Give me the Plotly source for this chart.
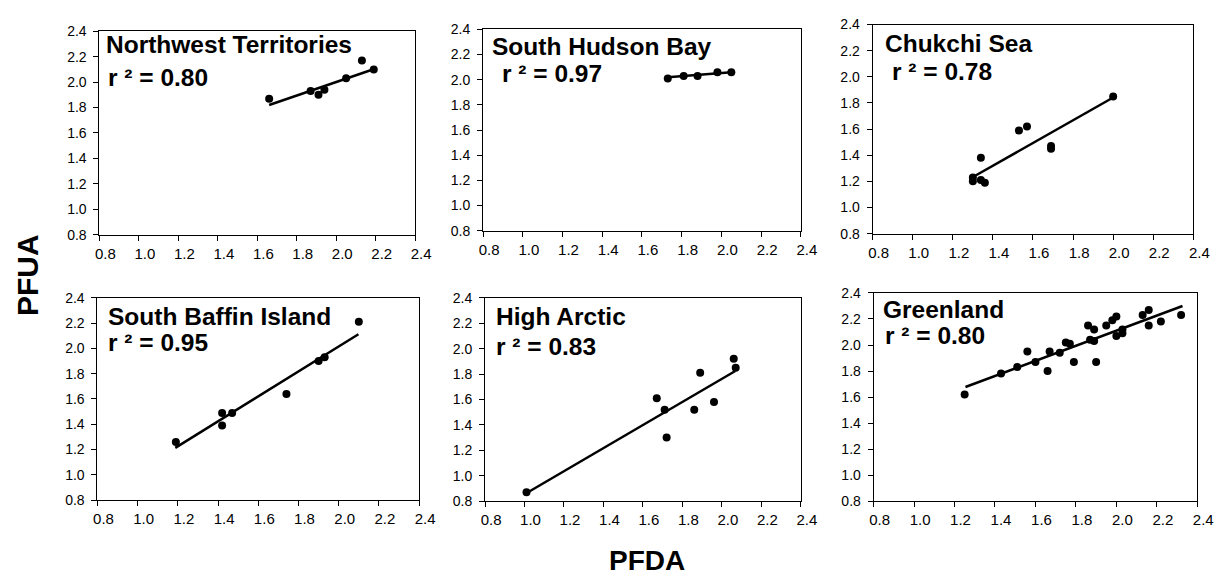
import plotly.graph_objects as go

W, H = 1230, 584

# ---------------- data ----------------
regions = ["Northwest Territories", "South Hudson Bay", "Chukchi Sea",
           "South Baffin Island", "High Arctic", "Greenland"]
r2_values = ["0.80", "0.97", "0.78", "0.95", "0.83", "0.80"]

nwt_pfda = [1.66, 1.87, 1.91, 1.94, 2.05, 2.13, 2.19]
nwt_pfua = [1.87, 1.93, 1.90, 1.94, 2.03, 2.17, 2.10]
nwt_fit_x = [1.66, 2.185]
nwt_fit_y = [1.82, 2.10]

shb_pfda = [1.73, 1.81, 1.88, 1.98, 2.05]
shb_pfua = [2.01, 2.03, 2.03, 2.06, 2.06]
shb_fit_x = [1.73, 2.05]
shb_fit_y = [2.02, 2.06]

chk_pfda = [1.30, 1.30, 1.34, 1.34, 1.36, 1.53, 1.57, 1.69, 1.69, 2.00]
chk_pfua = [1.23, 1.20, 1.38, 1.21, 1.19, 1.59, 1.62, 1.47, 1.45, 1.85]
chk_fit_x = [1.305, 2.00]
chk_fit_y = [1.237, 1.842]

sbi_pfda = [1.19, 1.42, 1.42, 1.47, 1.74, 1.90, 1.93, 2.10]
sbi_pfua = [1.26, 1.49, 1.39, 1.49, 1.64, 1.90, 1.93, 2.21]
sbi_fit_x = [1.187, 2.098]
sbi_fit_y = [1.213, 2.112]

hia_pfda = [1.01, 1.67, 1.71, 1.72, 1.86, 1.89, 1.96, 2.06, 2.07]
hia_pfua = [0.87, 1.61, 1.52, 1.30, 1.52, 1.81, 1.58, 1.92, 1.85]
hia_fit_x = [1.011, 2.068]
hia_fit_y = [0.864, 1.824]

grl_pfda = [1.25, 1.43, 1.51, 1.56, 1.60, 1.66, 1.67, 1.72, 1.75, 1.77,
            1.79, 1.86, 1.87, 1.89, 1.89, 1.90, 1.95, 1.98, 2.00, 2.00,
            2.03, 2.03, 2.13, 2.16, 2.16, 2.22, 2.32]
grl_pfua = [1.62, 1.78, 1.83, 1.95, 1.87, 1.80, 1.95, 1.94, 2.02, 2.01,
            1.87, 2.15, 2.04, 2.12, 2.03, 1.87, 2.15, 2.19, 2.22, 2.07,
            2.12, 2.09, 2.23, 2.27, 2.15, 2.18, 2.23]
grl_fit_x = [1.254, 2.327]
grl_fit_y = [1.677, 2.30]

axis_range = [0.8, 2.4]
tick_values = [0.8, 1.0, 1.2, 1.4, 1.6, 1.8, 2.0, 2.2, 2.4]
tick_labels = ["0.8", "1.0", "1.2", "1.4", "1.6", "1.8", "2.0", "2.2", "2.4"]

x_title = "PFDA"
y_title = "PFUA"

series = [
    (nwt_pfda, nwt_pfua, nwt_fit_x, nwt_fit_y),
    (shb_pfda, shb_pfua, shb_fit_x, shb_fit_y),
    (chk_pfda, chk_pfua, chk_fit_x, chk_fit_y),
    (sbi_pfda, sbi_pfua, sbi_fit_x, sbi_fit_y),
    (hia_pfda, hia_pfua, hia_fit_x, hia_fit_y),
    (grl_pfda, grl_pfua, grl_fit_x, grl_fit_y),
]

# ---------------- layout geometry (pixels) ----------------
# plot boxes: (left, right, top, bottom)
boxes = [
    (97, 418, 24, 233),
    (487, 810, 22, 229),
    (883, 1209, 17, 232),
    (95, 422, 298, 506),
    (489, 810, 298, 507),
    (884, 1213, 293, 507),
]
# annotation anchors: (title_x, title_y, r2_x, r2_y)
label_pos = [
    (102, 38, 104, 71),
    (494, 40, 504, 67),
    (894, 37, 901, 65),
    (104, 317, 104, 344),
    (498, 317, 498, 348),
    (891, 310, 894, 337),
]

FONT = "Liberation Sans, Arial, Helvetica, sans-serif"

fig = go.Figure()
layout = dict(
    width=W, height=H,
    margin=dict(l=0, r=0, t=0, b=0),
    paper_bgcolor="white", plot_bgcolor="white",
    showlegend=False,
    font=dict(family=FONT, color="black"),
)
annotations = []

for i, ((px, py, fx, fy), (l, r, t, b)) in enumerate(zip(series, boxes)):
    n = i + 1
    xa = "x" if n == 1 else f"x{n}"
    ya = "y" if n == 1 else f"y{n}"
    fig.add_trace(go.Scatter(x=fx, y=fy, mode="lines",
                             line=dict(color="black", width=2.5),
                             xaxis=xa, yaxis=ya, hoverinfo="skip"))
    fig.add_trace(go.Scatter(x=px, y=py, mode="markers",
                             marker=dict(color="black", size=8),
                             xaxis=xa, yaxis=ya))
    common = dict(range=axis_range, tickvals=tick_values, ticktext=tick_labels,
                  showgrid=False, zeroline=False, showline=True,
                  linecolor="black", linewidth=1, mirror=True,
                  ticks="outside", ticklen=5, tickcolor="black", tickwidth=1)
    layout["xaxis" if n == 1 else f"xaxis{n}"] = dict(
        common, domain=[l / W, r / W], anchor=ya,
        tickfont=dict(family=FONT, size=15, color="black"),
        ticklabelshift=6)
    layout["yaxis" if n == 1 else f"yaxis{n}"] = dict(
        common, domain=[1 - b / H, 1 - t / H], anchor=xa,
        tickfont=dict(family=FONT, size=14, color="black"),
        ticklabelstandoff=4)
    tx, ty, rx, ry = label_pos[i]
    annotations.append(dict(text=f"<b>{regions[i]}</b>", xref="paper", yref="paper",
                            x=tx / W, y=1 - ty / H, xanchor="left", yanchor="middle",
                            showarrow=False, font=dict(family=FONT, size=24.5, color="black")))
    annotations.append(dict(text=f"<b>r ² = {r2_values[i]}</b>", xref="paper", yref="paper",
                            x=rx / W, y=1 - ry / H, xanchor="left", yanchor="middle",
                            showarrow=False, font=dict(family=FONT, size=24.5, color="black")))

annotations.append(dict(text=f"<b>{y_title}</b>", xref="paper", yref="paper",
                        x=24 / W, y=1 - 275 / H, xanchor="center", yanchor="middle",
                        textangle=-90, showarrow=False,
                        font=dict(family=FONT, size=30, color="black")))
annotations.append(dict(text=f"<b>{x_title}</b>", xref="paper", yref="paper",
                        x=654 / W, y=1 - 568 / H, xanchor="center", yanchor="middle",
                        showarrow=False,
                        font=dict(family=FONT, size=28, color="black")))

layout["annotations"] = annotations
fig.update_layout(**layout)
fig.write_html("out.html",
               config={"displayModeBar": False},
               post_script="document.body.style.margin='0';document.body.style.padding='0';")
